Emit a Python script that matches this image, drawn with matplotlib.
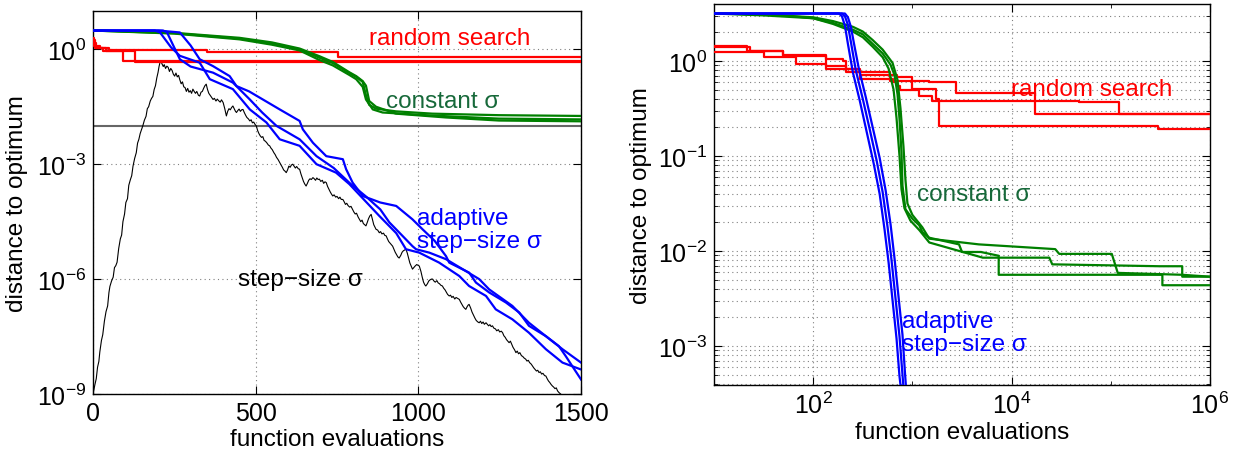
import numpy as np
import matplotlib
matplotlib.use("Agg")
import matplotlib.pyplot as plt
from matplotlib.ticker import FixedLocator, NullLocator, NullFormatter, LogFormatterSciNotation

plt.rcParams['font.family'] = ['Liberation Sans', 'DejaVu Sans']
plt.rcParams['mathtext.fontset'] = 'custom'
plt.rcParams['mathtext.rm'] = 'Liberation Sans'
plt.rcParams['mathtext.it'] = 'Liberation Sans:italic'
plt.rcParams['mathtext.default'] = 'regular'

# ---------------- LEFT PANEL DATA (x: evaluations, y: log10 distance) ----------------
# random search (step lines)
lr1_x = [0, 3, 20, 40, 92, 1500]
lr1_y = [2.0, 1.25, 1.05, 0.92, 0.50, 0.50]
lr2_x = [0, 6, 30, 129, 1500]
lr2_y = [1.8, 1.1, 0.9, 0.47, 0.47]
lr3_x = [0, 10, 50, 350, 754, 1500]
lr3_y = [1.5, 1.05, 0.95, 0.83, 0.64, 0.64]

# constant sigma
lg1_x = [0, 250, 450, 550, 635, 696, 737, 788, 809, 829, 839, 849, 870, 931, 1043, 1248, 1500]
lg1_ly = [0.49, 0.42, 0.28, 0.15, 0.0, -0.22, -0.36, -0.62, -0.72, -0.85, -1.2, -1.45, -1.55, -1.62, -1.68, -1.72, -1.74]
lg2_x = [0, 250, 450, 550, 635, 696, 737, 788, 809, 829, 839, 860, 890, 1043, 1248, 1500]
lg2_ly = [0.49, 0.41, 0.26, 0.12, -0.03, -0.28, -0.42, -0.67, -0.78, -0.98, -1.31, -1.57, -1.65, -1.73, -1.81, -1.83]
lg3_x = [0, 250, 450, 550, 635, 696, 737, 788, 809, 829, 839, 849, 870, 931, 1085, 1248, 1500]
lg3_ly = [0.50, 0.43, 0.30, 0.18, 0.02, -0.18, -0.33, -0.60, -0.70, -0.83, -0.95, -1.35, -1.50, -1.68, -1.78, -1.86, -1.88]

# adaptive step-size sigma
lb1_x = [0, 200, 267, 300, 328, 369, 420, 441, 480, 522, 574, 635, 645, 676, 717, 768, 778, 798,
         829, 883, 932, 982, 1013, 1050, 1085, 1095, 1156, 1177, 1218, 1269, 1310, 1340, 1392, 1443, 1500]
lb1_ly = [0.49, 0.49, 0.44, 0.1, -0.26, -0.44, -0.70, -0.96, -1.10, -1.31, -1.57, -1.87, -2.09, -2.44,
          -2.79, -2.87, -3.13, -3.48, -3.83, -4.0, -4.09, -4.44, -4.70, -5.0, -5.40, -5.57, -5.83, -6.09,
          -6.35, -6.61, -6.87, -7.22, -7.49, -7.83, -8.18]
lb2_x = [0, 215, 227, 267, 300, 369, 430, 482, 520, 564, 635, 687, 740, 790, 840, 883, 911, 942, 982,
         993, 1034, 1085, 1136, 1187, 1218, 1289, 1340, 1392, 1432, 1453, 1473, 1500]
lb2_ly = [0.49, 0.49, 0.45, -0.26, -0.45, -0.61, -0.87, -1.31, -1.65, -2.0, -2.35, -2.79, -3.1, -3.5,
          -3.85, -4.18, -4.52, -4.79, -5.14, -5.22, -5.31, -5.48, -5.74, -6.0, -6.27, -6.70, -7.14,
          -7.49, -7.75, -8.01, -8.27, -8.62]
lb3_x = [0, 190, 206, 240, 267, 328, 359, 430, 482, 533, 574, 635, 687, 747, 788, 880, 932, 962, 1003,
         1064, 1126, 1156, 1208, 1238, 1289, 1340, 1392, 1443, 1500]
lb3_ly = [0.49, 0.49, 0.44, 0.05, -0.17, -0.35, -0.78, -1.04, -1.57, -1.91, -2.35, -2.52, -3.0, -3.22,
          -3.52, -4.35, -4.80, -5.22, -5.31, -5.57, -5.92, -6.18, -6.44, -6.79, -7.05, -7.40, -7.83,
          -8.18, -8.36]

# step-size sigma (black)
blk_x = [0, 6, 10, 14, 18, 21, 26, 30, 35, 40, 45, 49, 52, 57, 62, 66, 70, 74, 79, 84, 88, 92, 97, 101,
         106, 110, 115, 119, 123, 128, 133, 137, 141, 145, 149, 153, 158, 163, 167, 171, 176, 180, 184,
         188, 192, 196, 200, 203, 206, 209, 212, 216, 219, 223, 227, 231, 235, 239, 243, 247, 251, 255,
         259, 263, 267, 271, 275, 279, 283, 287, 291, 295, 299, 303, 307, 311, 315, 319, 324, 328, 332,
         336, 340, 344, 348, 352, 356, 360, 364, 369, 373, 378, 382, 386, 391, 395, 400, 405, 410, 414,
         418, 422, 426, 430, 434, 438, 441, 445, 449, 453, 457, 461, 465, 469, 473, 478, 482, 486, 490,
         494, 498, 502, 506, 510, 514, 518, 522, 526, 530, 535, 539, 543, 547, 551, 556, 560, 564, 569,
         574, 578, 582, 586, 590, 594, 598, 602, 606, 610, 614, 618, 622, 626, 631, 635, 639, 643, 647,
         651, 655, 659, 663, 667, 671, 676, 680, 684, 688, 692, 696, 700, 705, 709, 713, 717, 721, 725,
         729, 733, 737, 741, 746, 750, 755, 759, 763, 768, 772, 776, 780, 784, 789, 793, 798, 802, 806,
         810, 815, 819, 823, 827, 831, 835, 839, 843, 847, 851, 855, 859, 863, 867, 870, 875, 880, 884,
         888, 893, 897, 901, 905, 909, 913, 917, 921, 925, 929, 933, 937, 941, 946, 950, 954, 958, 962,
         966, 970, 974, 978, 982, 986, 990, 995, 999, 1003, 1008, 1012, 1016, 1020, 1023, 1028, 1032,
         1036, 1040, 1044, 1048, 1052, 1057, 1061, 1065, 1069, 1074, 1078, 1082, 1086, 1090, 1095, 1099,
         1103, 1107, 1112, 1116, 1120, 1126, 1130, 1134, 1138, 1142, 1146, 1150, 1153, 1156, 1161, 1165,
         1170, 1174, 1178, 1183, 1187, 1191, 1195, 1199, 1203, 1208, 1212, 1216, 1220, 1224, 1228, 1232,
         1237, 1241, 1246, 1250, 1255, 1259, 1263, 1267, 1271, 1275, 1279, 1283, 1287, 1291, 1296, 1300,
         1304, 1308, 1312, 1317, 1321, 1325, 1330, 1334, 1338, 1342, 1347, 1351, 1355, 1359, 1363, 1367,
         1371, 1375, 1379, 1383, 1388, 1392, 1396, 1400, 1404, 1408, 1412, 1416, 1420, 1424, 1428, 1432,
         1440, 1450, 1470, 1500]
blk_ly = [-9.0, -8.75, -8.6, -8.3, -8.15, -7.9, -7.6, -7.45, -7.1, -6.85, -6.7, -6.35, -6.19, -6.05,
          -5.95, -5.7, -5.65, -5.56, -5.2, -4.95, -4.85, -4.5, -4.3, -4.0, -3.9, -3.55, -3.4, -3.3, -3.05,
          -2.85, -2.7, -2.45, -2.35, -2.2, -2.1, -2.0, -1.85, -1.75, -1.55, -1.5, -1.35, -1.28, -1.23,
          -1.05, -0.95, -0.75, -0.6, -0.45, -0.34, -0.30, -0.38, -0.45, -0.40, -0.50, -0.44, -0.47, -0.58,
          -0.50, -0.55, -0.65, -0.70, -0.62, -0.72, -0.68, -0.80, -0.90, -0.85, -0.98, -1.00, -1.10, -1.02,
          -1.12, -1.08, -1.15, -1.04, -1.10, -1.15, -1.10, -1.20, -1.22, -1.12, -1.10, -1.02, -0.95, -0.91,
          -1.05, -1.15, -1.20, -1.25, -1.31, -1.28, -1.35, -1.30, -1.34, -1.38, -1.32, -1.39, -1.55, -1.74,
          -1.62, -1.55, -1.58, -1.52, -1.48, -1.55, -1.62, -1.65, -1.60, -1.56, -1.62, -1.58, -1.57, -1.65,
          -1.72, -1.78, -1.82, -1.87, -1.84, -1.92, -1.90, -1.96, -2.00, -2.12, -2.20, -2.26, -2.30, -2.28,
          -2.38, -2.40, -2.45, -2.50, -2.52, -2.58, -2.62, -2.70, -2.75, -2.82, -2.88, -2.96, -3.02, -3.08,
          -3.15, -3.18, -3.22, -3.15, -3.05, -3.08, -3.02, -3.00, -3.05, -3.10, -3.06, -3.12, -3.13, -3.25,
          -3.35, -3.45, -3.52, -3.57, -3.50, -3.42, -3.38, -3.40, -3.35, -3.38, -3.42, -3.36, -3.40, -3.39,
          -3.45, -3.42, -3.50, -3.46, -3.48, -3.58, -3.65, -3.72, -3.78, -3.83, -3.80, -3.86, -3.84, -3.90,
          -3.86, -3.92, -3.92, -3.98, -4.05, -4.02, -4.08, -4.12, -4.10, -4.18, -4.25, -4.30, -4.28, -4.38,
          -4.44, -4.50, -4.46, -4.55, -4.58, -4.61, -4.52, -4.42, -4.35, -4.31, -4.45, -4.58, -4.65, -4.70,
          -4.72, -4.79, -4.76, -4.82, -4.80, -4.86, -4.87, -4.95, -5.02, -5.06, -5.10, -5.14, -5.22, -5.30,
          -5.36, -5.42, -5.45, -5.38, -5.30, -5.26, -5.24, -5.22, -5.32, -5.45, -5.58, -5.66, -5.74, -5.70,
          -5.66, -5.62, -5.64, -5.66, -5.80, -5.95, -6.08, -6.15, -6.18, -6.12, -6.05, -6.02, -6.00, -6.00,
          -6.05, -6.08, -6.04, -6.10, -6.12, -6.16, -6.18, -6.24, -6.28, -6.34, -6.40, -6.44, -6.42, -6.48,
          -6.45, -6.52, -6.48, -6.50, -6.53, -6.60, -6.66, -6.72, -6.76, -6.79, -6.72, -6.68, -6.66, -6.76,
          -6.86, -6.95, -7.02, -7.08, -7.12, -7.14, -7.10, -7.16, -7.12, -7.18, -7.14, -7.18, -7.22, -7.19,
          -7.24, -7.22, -7.28, -7.30, -7.35, -7.32, -7.38, -7.36, -7.40, -7.48, -7.52, -7.58, -7.62, -7.66,
          -7.62, -7.70, -7.78, -7.85, -7.92, -7.88, -7.95, -7.92, -8.00, -8.02, -8.06, -8.09, -8.14, -8.12,
          -8.18, -8.22, -8.27, -8.32, -8.36, -8.40, -8.38, -8.44, -8.42, -8.48, -8.46, -8.52, -8.53, -8.60,
          -8.66, -8.70, -8.75, -8.79, -8.82, -8.86, -8.84, -8.92, -8.96, -9.02, -9.1, -9.2, -9.4]

# ---------------- RIGHT PANEL DATA (log10 evaluations, log10 distance) ----------------
rr1_lx = [1.0, 1.33, 1.70, 2.13, 2.33, 2.77, 3.17, 3.44, 4.24, 6.0]
rr1_ly = [0.16, 0.11, 0.06, -0.05, -0.12, -0.21, -0.22, -0.34, -0.56, -0.56]
rr2_lx = [1.0, 1.33, 1.36, 1.70, 2.13, 2.30, 2.33, 2.43, 2.47, 2.80, 2.84, 2.87, 3.07, 3.20, 4.68, 5.08, 6.0]
rr2_ly = [0.15, 0.144, 0.11, 0.056, 0.02, 0.0, -0.084, -0.12, -0.19, -0.22, -0.26, -0.31, -0.37, -0.42,
          -0.43, -0.56, -0.56]
rr3_lx = [1.0, 1.50, 1.83, 2.13, 2.47, 2.84, 3.0, 3.24, 3.27, 5.48, 6.0]
rr3_ly = [0.10, 0.04, -0.03, -0.084, -0.15, -0.17, -0.29, -0.40, -0.68, -0.72, -0.72]

rg1_lx = [1.0, 1.5, 1.8, 2.0, 2.2, 2.4, 2.5, 2.6, 2.7, 2.78, 2.82, 2.85, 2.87, 2.89, 2.90, 2.93, 3.0,
          3.07, 3.10, 3.17, 3.47, 3.50, 3.69, 3.87, 3.87, 5.52, 5.52, 6.0]
rg1_ly = [0.50, 0.49, 0.47, 0.45, 0.40, 0.33, 0.28, 0.18, 0.08, -0.04, -0.15, -0.35, -0.61, -0.96,
          -1.31, -1.56, -1.66, -1.73, -1.80, -1.86, -1.93, -2.01, -2.01, -2.05, -2.25, -2.25, -2.36, -2.36]
rg2_lx = [1.0, 1.5, 2.0, 2.2, 2.4, 2.5, 2.6, 2.7, 2.8, 2.85, 2.88, 2.91, 2.93, 2.95, 3.0, 3.1, 3.17,
          3.67, 4.44, 4.48, 5.01, 5.07, 5.72, 6.0]
rg2_ly = [0.50, 0.49, 0.46, 0.42, 0.36, 0.31, 0.22, 0.12, -0.02, -0.2, -0.5, -0.9, -1.25, -1.5, -1.62,
          -1.75, -1.87, -1.93, -1.98, -2.03, -2.03, -2.23, -2.25, -2.27]
rg3_lx = [1.0, 1.5, 2.0, 2.2, 2.4, 2.5, 2.6, 2.7, 2.76, 2.81, 2.84, 2.87, 2.89, 2.92, 2.98, 3.07, 3.17,
          3.71, 4.38, 4.41, 5.49, 5.72, 5.72, 6.0]
rg3_ly = [0.50, 0.48, 0.45, 0.39, 0.31, 0.25, 0.15, 0.04, -0.08, -0.3, -0.6, -1.0, -1.35, -1.55, -1.68,
          -1.78, -1.91, -2.07, -2.07, -2.14, -2.16, -2.16, -2.27, -2.27]

rb1_lx = [1.0, 2.26, 2.29, 2.32, 2.35, 2.40, 2.47, 2.54, 2.61, 2.67, 2.72, 2.76, 2.80, 2.84, 2.87, 2.89]
rb1_ly = [0.50, 0.50, 0.47, 0.37, 0.18, -0.12, -0.42, -0.75, -1.08, -1.40, -1.78, -2.12, -2.52, -2.92,
          -3.32, -3.50]
rb2_lx = [1.0, 2.32, 2.35, 2.38, 2.41, 2.46, 2.53, 2.60, 2.67, 2.73, 2.78, 2.82, 2.86, 2.90, 2.925, 2.94]
rb2_ly = [0.50, 0.50, 0.46, 0.36, 0.19, -0.08, -0.38, -0.70, -1.02, -1.36, -1.72, -2.08, -2.48, -2.88,
          -3.28, -3.50]
rb3_lx = [1.0, 2.29, 2.32, 2.35, 2.38, 2.43, 2.50, 2.57, 2.64, 2.70, 2.75, 2.79, 2.83, 2.87, 2.90, 2.915]
rb3_ly = [0.50, 0.50, 0.47, 0.38, 0.20, -0.10, -0.40, -0.72, -1.05, -1.38, -1.75, -2.10, -2.50, -2.90,
          -3.30, -3.50]

RED = '#ff0000'
GREEN = '#008000'
GREEN_TXT = '#17693a'
BLUE = '#0000ff'
FS = 17.5
GRID = dict(linestyle=(0, (1, 3)), color='#808080', lw=0.8)

def p10(a):
    return 10.0 ** np.asarray(a, dtype=float)

fig = plt.figure(figsize=(12.38, 4.52), dpi=100)

# ---------------- LEFT ----------------
axL = fig.add_axes([93 / 1238, 1 - 395 / 452, (581 - 93) / 1238, (395 - 12) / 452])
axL.set_yscale('log')
axL.axhline(1e-2, color='#666666', lw=1.5, zorder=1)
for xs, ys in [(lr1_x, lr1_y), (lr2_x, lr2_y), (lr3_x, lr3_y)]:
    axL.plot(xs, ys, color=RED, lw=1.6, drawstyle='steps-post', zorder=3)
for xs, ys in [(lg1_x, lg1_ly), (lg2_x, lg2_ly), (lg3_x, lg3_ly)]:
    axL.plot(xs, p10(ys), color=GREEN, lw=1.6, zorder=3)
for xs, ys in [(lb1_x, lb1_ly), (lb2_x, lb2_ly), (lb3_x, lb3_ly)]:
    axL.plot(xs, p10(ys), color=BLUE, lw=1.6, zorder=3)
axL.plot(blk_x, p10(blk_ly), color='black', lw=0.8, zorder=2)
axL.set_xlim(0, 1500)
axL.set_ylim(1e-9, 10)
axL.xaxis.set_major_locator(FixedLocator([0, 500, 1000, 1500]))
axL.yaxis.set_major_locator(FixedLocator([1e-9, 1e-6, 1e-3, 1e0]))
axL.yaxis.set_major_formatter(LogFormatterSciNotation())
axL.yaxis.set_minor_locator(NullLocator())
axL.grid(True, which='major', **GRID)
axL.set_xlabel('function evaluations', fontsize=FS, labelpad=2)
axL.set_ylabel('distance to optimum', fontsize=FS, labelpad=6)

axL.text(1095, 10 ** 0.29, 'random search', color=RED, fontsize=FS, ha='center', va='center')
axL.text(902, 10 ** -1.36, 'constant σ', color=GREEN_TXT, fontsize=FS, ha='left', va='center')
axL.text(997, 10 ** -4.70, 'adaptive\nstep\u2212size σ', color=BLUE, fontsize=FS, ha='left',
         va='center', linespacing=1.05)
axL.text(445, 10 ** -6.0, 'step\u2212size σ', color='black', fontsize=FS, ha='left', va='center')

# ---------------- RIGHT ----------------
axR = fig.add_axes([714 / 1238, 1 - 386 / 452, (1210 - 714) / 1238, (386 - 5) / 452])
axR.set_xscale('log')
axR.set_yscale('log')
for xs, ys in [(rr1_lx, rr1_ly), (rr2_lx, rr2_ly), (rr3_lx, rr3_ly)]:
    axR.plot(p10(xs), p10(ys), color=RED, lw=1.6, drawstyle='steps-post', zorder=3)
for xs, ys in [(rg1_lx, rg1_ly), (rg2_lx, rg2_ly), (rg3_lx, rg3_ly)]:
    axR.plot(p10(xs), p10(ys), color=GREEN, lw=1.6, zorder=3)
for xs, ys in [(rb1_lx, rb1_ly), (rb2_lx, rb2_ly), (rb3_lx, rb3_ly)]:
    axR.plot(p10(xs), p10(ys), color=BLUE, lw=1.6, zorder=3)
axR.set_xlim(10, 1e6)
axR.set_ylim(10 ** -3.41, 10 ** 0.6)
axR.xaxis.set_major_locator(FixedLocator([1e2, 1e4, 1e6]))
axR.xaxis.set_major_formatter(LogFormatterSciNotation())
axR.xaxis.set_minor_locator(FixedLocator([1e1, 1e3, 1e5]))
axR.xaxis.set_minor_formatter(NullFormatter())
axR.yaxis.set_major_locator(FixedLocator([1e-3, 1e-2, 1e-1, 1e0]))
axR.yaxis.set_major_formatter(LogFormatterSciNotation())
minors = [m * 10.0 ** e for e in range(-4, 1) for m in range(2, 10)]
axR.yaxis.set_minor_locator(FixedLocator(minors))
axR.yaxis.set_minor_formatter(NullFormatter())
axR.grid(True, axis='x', which='major', **GRID)
axR.grid(True, axis='y', which='both', **GRID)
axR.set_xlabel('function evaluations', fontsize=FS, labelpad=2)
axR.set_ylabel('distance to optimum', fontsize=FS, labelpad=4)

axR.text(10 ** 3.995, 10 ** -0.295, 'random search', color=RED, fontsize=FS, ha='left', va='center')
axR.text(10 ** 3.05, 10 ** -1.40, 'constant σ', color=GREEN_TXT, fontsize=FS, ha='left', va='center')
axR.text(10 ** 2.90, 10 ** -2.86, 'adaptive\nstep\u2212size σ', color=BLUE, fontsize=FS, ha='left',
         va='center', linespacing=1.05)

for ax in (axL, axR):
    ax.tick_params(which='both', direction='in', top=True, right=True, labelsize=18, pad=5)
    ax.tick_params(which='major', length=6, width=0.8)
    ax.tick_params(which='minor', length=3, width=0.6)
    for s in ax.spines.values():
        s.set_linewidth(1.0)
    ax.set_axisbelow(True)

fig.savefig('out.png', dpi=100)
